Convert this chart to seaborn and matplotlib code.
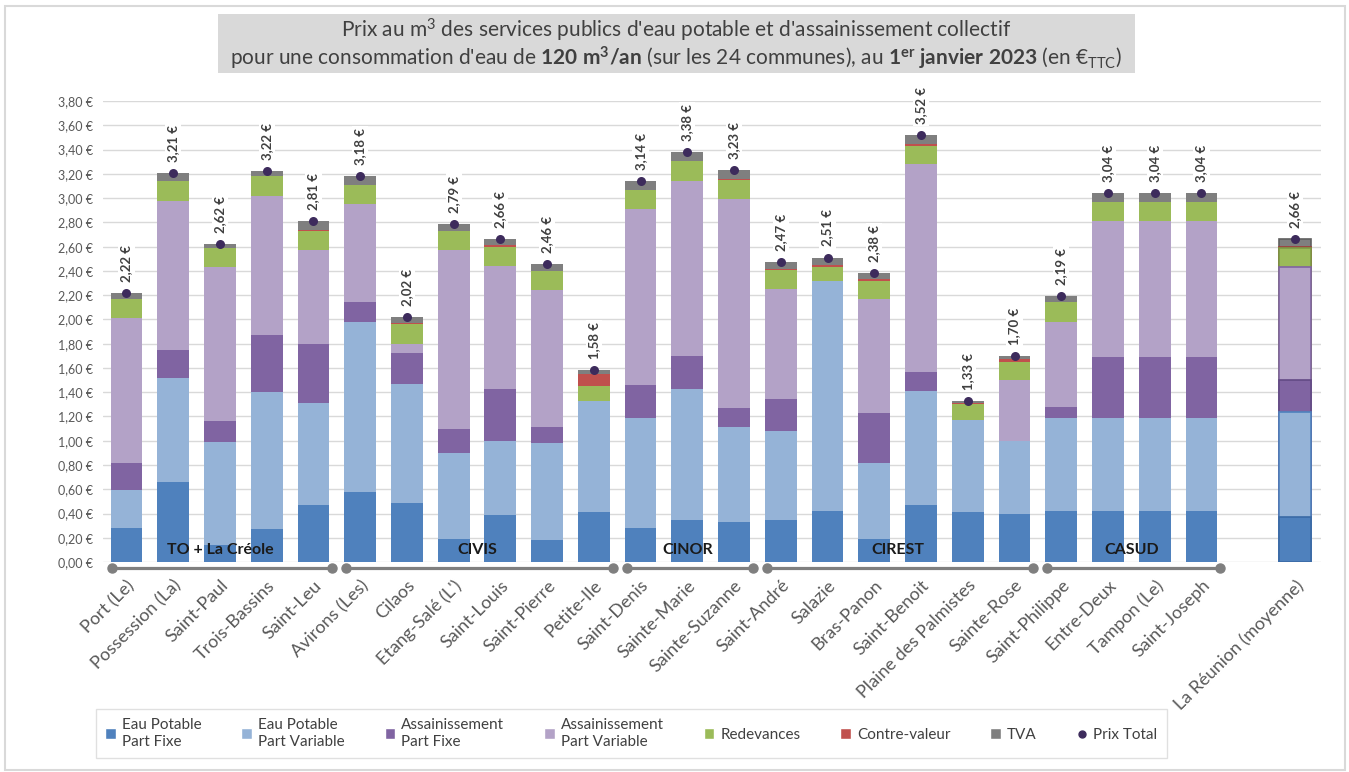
import numpy as np
import pandas as pd
import matplotlib.pyplot as plt
import matplotlib.colors as mcolors
from matplotlib.patches import Patch, Rectangle
from matplotlib.lines import Line2D
import seaborn as sns

# Données (prix au m3, en € TTC, 120 m3/an)
communes = ["Port (Le)", "Possession (La)", "Saint-Paul", "Trois-Bassins", "Saint-Leu",
            "Avirons (Les)", "Cilaos", "Etang-Salé (L')", "Saint-Louis", "Saint-Pierre",
            "Petite-Ile", "Saint-Denis", "Sainte-Marie", "Sainte-Suzanne", "Saint-André",
            "Salazie", "Bras-Panon", "Saint-Benoit", "Plaine des Palmistes", "Sainte-Rose",
            "Saint-Philippe", "Entre-Deux", "Tampon (Le)", "Saint-Joseph",
            "La Réunion (moyenne)"]

ep_fixe = [0.28, 0.66, 0.14, 0.27, 0.47, 0.58, 0.49, 0.19, 0.39, 0.18, 0.41, 0.28, 0.35,
           0.33, 0.35, 0.42, 0.19, 0.47, 0.41, 0.40, 0.42, 0.42, 0.42, 0.42, 0.37]
ep_var = [0.31, 0.86, 0.85, 1.13, 0.84, 1.40, 0.98, 0.71, 0.61, 0.80, 0.92, 0.91, 1.08,
          0.78, 0.73, 1.90, 0.63, 0.94, 0.76, 0.60, 0.77, 0.77, 0.77, 0.77, 0.87]
ass_fixe = [0.23, 0.23, 0.17, 0.47, 0.49, 0.16, 0.25, 0.20, 0.43, 0.13, 0.00, 0.27, 0.27,
            0.16, 0.26, 0.00, 0.41, 0.16, 0.00, 0.00, 0.09, 0.50, 0.50, 0.50, 0.26]
ass_var = [1.19, 1.23, 1.27, 1.15, 0.77, 0.81, 0.08, 1.47, 1.01, 1.13, 0.00, 1.45, 1.44,
           1.72, 0.91, 0.00, 0.94, 1.71, 0.00, 0.50, 0.70, 1.12, 1.12, 1.12, 0.93]
redevances = [0.16, 0.16, 0.16, 0.16, 0.16, 0.16, 0.16, 0.16, 0.16, 0.16, 0.12, 0.16, 0.17,
              0.16, 0.16, 0.11, 0.15, 0.15, 0.13, 0.15, 0.16, 0.16, 0.16, 0.16, 0.16]
contre_valeur = [0.00, 0.00, 0.00, 0.00, 0.01, 0.00, 0.01, 0.00, 0.01, 0.00, 0.10, 0.00, 0.00,
                 0.01, 0.01, 0.02, 0.01, 0.02, 0.01, 0.02, 0.00, 0.00, 0.00, 0.00, 0.01]
tva = [0.05, 0.07, 0.03, 0.04, 0.07, 0.07, 0.05, 0.06, 0.05, 0.06, 0.03, 0.07, 0.07,
       0.07, 0.05, 0.06, 0.05, 0.07, 0.02, 0.03, 0.05, 0.07, 0.07, 0.07, 0.06]
prix_total = [2.22, 3.21, 2.62, 3.22, 2.81, 3.18, 2.02, 2.79, 2.66, 2.46, 1.58, 3.14, 3.38,
              3.23, 2.47, 2.51, 2.38, 3.52, 1.33, 1.70, 2.19, 3.04, 3.04, 3.04, 2.66]

groupes = ["TO + La Créole", "CIVIS", "CINOR", "CIREST", "CASUD"]
membres = [communes[0:5], communes[5:11], communes[11:14], communes[14:20], communes[20:24]]

composantes = ["Eau Potable\nPart Fixe", "Eau Potable\nPart Variable",
               "Assainissement\nPart Fixe", "Assainissement\nPart Variable",
               "Redevances", "Contre-valeur", "TVA"]
couleurs = ["#4F81BD", "#95B3D7", "#8064A2", "#B3A2C7", "#9BBB59", "#C0504D", "#7F7F7F"]
bords = ["#3a6aa5", "#4F81BD", "#634a85", "#8064A2", "#7d9a45", "#a03c39", "#5f5f5f"]
col_total = "#3D2B5C"

sns.set_style("white")
plt.rcParams["font.family"] = ["Lato", "DejaVu Sans"]
plt.rcParams["mathtext.fontset"] = "custom"
plt.rcParams["mathtext.rm"] = "Lato"
plt.rcParams["mathtext.bf"] = "Lato:bold"
plt.rcParams["mathtext.it"] = "Lato:italic"

# tableau long avec cumuls (barres superposées, la plus haute dessinée en premier)
valeurs = np.array([ep_fixe, ep_var, ass_fixe, ass_var, redevances, contre_valeur, tva])
cumul = valeurs.cumsum(axis=0)
rows = []
for k, comp in enumerate(composantes):
    for j, c in enumerate(communes):
        rows.append({"commune": c, "composante": comp, "cumul": cumul[k, j]})
df = pd.DataFrame(rows)
df_tot = pd.DataFrame({"commune": communes, "total": prix_total})

order = communes[:24] + [" "] + communes[24:]
palette = dict(zip(composantes, couleurs))

fig = plt.figure(figsize=(13.49, 7.72), dpi=100)
ax = fig.add_axes([0.0764, 0.272, 0.9026, 0.597])

sns.barplot(data=df, x="commune", y="cumul", hue="composante", order=order,
            hue_order=composantes[::-1], palette=palette, dodge=False, width=0.68,
            errorbar=None, legend=False, saturation=1, linewidth=0, ax=ax, zorder=2)

# contour de la barre moyenne Réunion
pos_reu = order.index("La Réunion (moyenne)")
edge_map = {mcolors.to_hex(c): b for c, b in zip(couleurs, bords)}
for p in ax.patches:
    if abs(p.get_x() + p.get_width() / 2 - pos_reu) < 0.1:
        p.set_edgecolor(edge_map.get(mcolors.to_hex(p.get_facecolor()), "none"))
        p.set_linewidth(1.2)

sns.stripplot(data=df_tot, x="commune", y="total", order=order, jitter=False,
              color=col_total, size=6.5, ax=ax, zorder=4)

for c, t in zip(communes, prix_total):
    ax.annotate(f"{t:.2f} €".replace(".", ","), (order.index(c), t), xytext=(0, 8),
                textcoords="offset points", rotation=90, ha="center", va="bottom",
                fontsize=9.5, fontweight="bold", color="#404040",
                bbox=dict(facecolor="white", edgecolor="none", pad=1.5), zorder=5)

# axes
ax.set_ylim(0, 3.8)
ax.set_xlim(-0.5, 25.55)
yt = np.arange(0, 3.81, 0.2)
ax.set_yticks(yt)
ax.set_yticklabels([f"{v:.2f} €".replace(".", ",") for v in yt], fontsize=9, color="#595959")
ax.yaxis.grid(True, color="#d9d9d9", linewidth=1, zorder=0)
ax.set_axisbelow(True)
ax.tick_params(axis="y", length=0, pad=7)
ax.tick_params(axis="x", length=0, pad=11)
ax.set_xticks(range(len(order)))
ax.set_xticklabels(order, rotation=45, ha="right", rotation_mode="anchor",
                   fontsize=13, color="#595959")
for s in ax.spines.values():
    s.set_visible(False)
ax.set_xlabel("")
ax.set_ylabel("")

# regroupements intercommunaux
for nom, mem in zip(groupes, membres):
    idx = [order.index(m) for m in mem]
    x0, x1 = max(idx[0] - 0.3, -0.5), idx[-1] + 0.4
    ax.plot([x0, x1], [-0.05, -0.05], color="#7F7F7F", lw=2.3, marker="o",
            markersize=6.5, clip_on=False, zorder=3, solid_capstyle="round")
    ax.text(np.mean(idx), 0.1, nom, ha="center", va="center", fontsize=11.5,
            fontweight="bold", color="#1a1a1a", zorder=6)

# titre dans un cadre gris
fig.patches.append(Rectangle((0.1616, 0.9054), 0.680, 0.0764, transform=fig.transFigure,
                             facecolor="#d9d9d9", edgecolor="none", zorder=0))
fig.text(0.501, 0.961, r"Prix au m$^3$ des services publics d'eau potable et d'assainissement collectif",
         ha="center", va="center", fontsize=15, color="#404040")
fig.text(0.501, 0.925, r"pour une consommation d'eau de $\mathbf{120\ m^3/an}$ (sur les 24 communes), "
         r"au $\mathbf{1^{er}\ janvier\ 2023}$ (en $\mathrm{€}_{\mathrm{TTC}}$)",
         ha="center", va="center", fontsize=15, color="#404040")

# cadre du graphique
fig.patches.append(Rectangle((0.004, 0.003), 0.993, 0.989, transform=fig.transFigure,
                             facecolor="none", edgecolor="#d9d9d9", linewidth=1.5))

# légende
handles = [Patch(facecolor=c, label=l) for c, l in zip(couleurs, composantes)]
handles.append(Line2D([], [], marker="o", linestyle="none", color=col_total,
                      markersize=5, label="Prix Total"))
leg = fig.legend(handles=handles, loc="center", bbox_to_anchor=(0.468, 0.05), ncol=8,
                 fontsize=11, frameon=True, fancybox=False, edgecolor="#d9d9d9",
                 handlelength=0.7, handleheight=0.7, handletextpad=0.4, columnspacing=2.6,
                 borderpad=0.6)
for t in leg.get_texts():
    t.set_color("#404040")

fig.savefig("out.png", dpi=100)
